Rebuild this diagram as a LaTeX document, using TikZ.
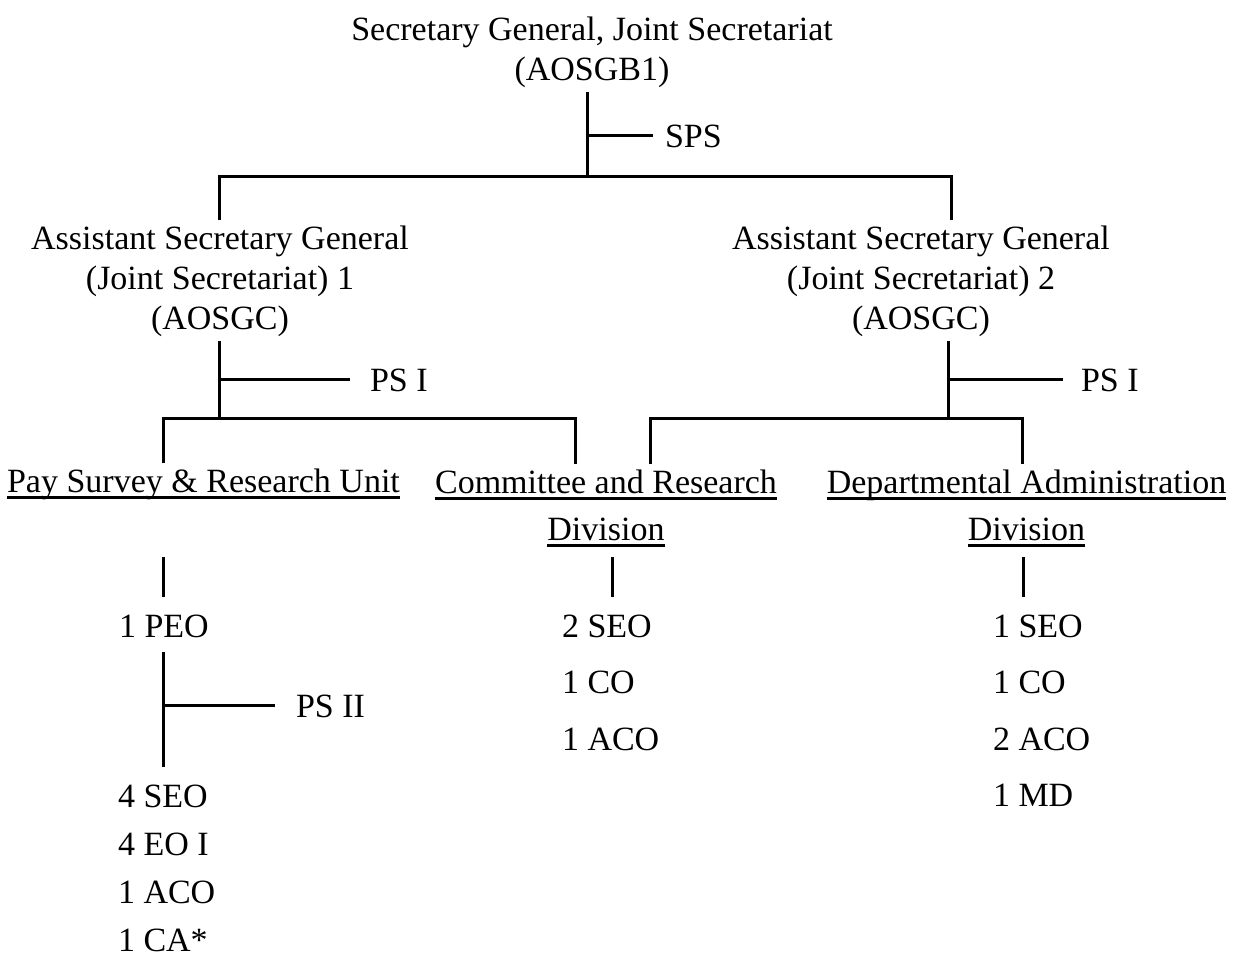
\documentclass[tikz,border=0pt]{standalone}
\usepackage{fontspec}
\setmainfont{Liberation Serif}
\newcommand{\ulbar}[1]{\setbox0=\hbox{#1}\rlap{\rule[-6.5pt]{\wd0}{3pt}}\box0}
\begin{document}
\begin{tikzpicture}[x=1pt, y=-1pt, line width=3pt,
  post/.style={anchor=base, align=center, inner sep=0pt, outer sep=5pt},
  grade/.style={anchor=base west, inner sep=0pt, outer sep=0pt},
  staff/.style={anchor=base west, align=left, inner sep=0pt, outer sep=5pt}]
\useasboundingbox (0,0) rectangle (1239,954);
\fontsize{34}{40}\selectfont

% Posts (base = last line)
\node[post] (sg) at (592,80) {Secretary General, Joint Secretariat\\(AOSGB1)};
\node[post] (asg1) at (220,329) {Assistant Secretary General\\(Joint Secretariat) 1\\(AOSGC)};
\node[post] (asg2) at (921,329) {Assistant Secretary General\\(Joint Secretariat) 2\\(AOSGC)};

% Units
\node[post] (psr) at (203.5,492) {\ulbar{Pay Survey \& Research Unit}};
\node[post, font=\fontsize{34}{47}\selectfont] (crd) at (606,540) {\ulbar{Committee and Research}\\\ulbar{Division}};
\node[post, font=\fontsize{34}{47}\selectfont] (dad) at (1026.5,540) {\ulbar{Departmental Administration}\\\ulbar{Division}};

% Grades
\node[grade] (sps) at (665,147) {SPS};
\node[grade] (ps1) at (370,391) {PS I};
\node[grade] (ps2) at (1081,391) {PS I};
\node[grade] (ps3) at (296,717) {PS II};

% Staff
\node[staff] (peo) at (114,637) {1 PEO};
\node[staff, font=\fontsize{34}{48}\selectfont] (stf1) at (113,951) {4 SEO\\4 EO I\\1 ACO\\1 CA*};
\node[staff, font=\fontsize{34}{56.5}\selectfont] (stf2) at (557,750) {2 SEO\\1 CO\\1 ACO};
\node[staff, font=\fontsize{34}{56.5}\selectfont] (stf3) at (988,806.5) {1 SEO\\1 CO\\2 ACO\\1 MD};

% Junctions
\coordinate (top) at (587,176);
\coordinate (bl) at (219,176);
\coordinate (br) at (951,176);
\coordinate (ml) at (219,418);
\coordinate (mr) at (948,418);
\coordinate (p1) at (163,418);
\coordinate (p2) at (575,418);
\coordinate (q1) at (650,418);
\coordinate (q2) at (1022,418);
\coordinate (v1) at (163,557);
\coordinate (v2) at (612,557);
\coordinate (v3) at (1023,557);

\draw (sg.south -| top) -- (top);
\draw[shorten >=12pt] (sps.west -| top) -- (sps.west);
\draw (bl |- asg1.north) -- (bl) -- (br) -- (br |- asg2.north);

\draw (asg1.south -| ml) -- (ml);
\draw[shorten >=20pt] (ps1.west -| ml) -- (ps1.west);
\draw (p1 |- psr.north) -- (p1) -- (p2) -- (p2 |- crd.north);

\draw (asg2.south -| mr) -- (mr);
\draw[shorten >=18pt] (ps2.west -| mr) -- (ps2.west);
\draw (q1 |- crd.north) -- (q1) -- (q2) -- (q2 |- dad.north);

\draw[shorten >=13pt] (v1) -- (v1 |- peo.north);
\draw[shorten <=10pt, shorten >=13pt] (peo.south -| v1) -- (v1 |- stf1.north);
\draw[shorten >=21pt] (ps3.west -| v1) -- (ps3.west);
\draw[shorten >=13pt] (v2) -- (v2 |- stf2.north);
\draw[shorten >=13pt] (v3) -- (v3 |- stf3.north);

\end{tikzpicture}
\end{document}
